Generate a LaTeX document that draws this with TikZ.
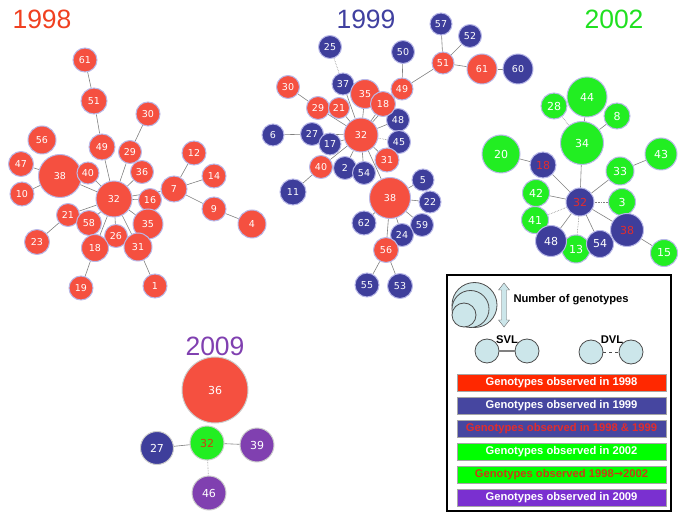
\documentclass[tikz,border=0pt]{standalone}
\usepackage{fontspec}
\setmainfont{Liberation Sans}
\newfontfamily\numfont{DejaVu Sans}
\usetikzlibrary{backgrounds}

\definecolor{red98}{RGB}{245,80,64}
\definecolor{blue99}{RGB}{62,62,155}
\definecolor{green02}{RGB}{34,238,34}
\definecolor{purple09}{RGB}{128,64,176}
\definecolor{rim}{RGB}{184,184,232}
\definecolor{redtext}{RGB}{225,45,45}
\definecolor{legfill}{RGB}{204,230,234}
\definecolor{barred}{RGB}{255,40,0}
\definecolor{barblue}{RGB}{70,70,160}
\definecolor{bargreen}{RGB}{0,255,0}
\definecolor{barpurple}{RGB}{122,48,208}
\definecolor{title98}{RGB}{240,64,32}
\definecolor{title99}{RGB}{64,64,160}
\definecolor{title02}{RGB}{32,224,32}

\begin{document}
\begin{tikzpicture}[x=1pt,y=-1pt,
  geno/.style={circle,draw=rim,line width=1pt,inner sep=0pt,text=white,
    font=\numfont\fontsize{9.5}{9.5}\selectfont},
  bigtext/.style={font=\numfont\fontsize{11}{11}\selectfont},
  g98/.style={geno,fill=red98},
  g99/.style={geno,fill=blue99},
  g99r/.style={g99,text=redtext},
  g02/.style={geno,fill=green02},
  g09/.style={geno,fill=purple09},
  svl/.style={draw=gray,line width=0.6pt},
  dvl/.style={svl,densely dotted},
  year/.style={font=\fontsize{26.5}{26.5}\selectfont},
  legcirc/.style={circle,draw=black!70,fill=legfill,line width=0.8pt,inner sep=0pt},
  bar/.style={draw=gray!70,minimum width=209pt,minimum height=17pt,inner sep=0pt,
    text=white,font=\bfseries\fontsize{11.2}{11.2}\selectfont},
  legtext/.style={font=\bfseries\fontsize{11.2}{11.2}\selectfont}]
  \useasboundingbox (0,0) rectangle (685,518);

  % Years.
  \node[year,text=title98] (t98) at (42,19) {1998};
  \node[year,text=title99] (t99) at (366,19) {1999};
  \node[year,text=title02] (t02) at (614,19) {2002};
  \node[year,text=purple09] (t09) at (215,346) {2009};

  % 1998 network.
  \foreach \n/\x/\y/\r in {61/85/60/12, 51/94/101/13, 30/148/114/12, 56/42/140/14,
      49/102/147/13, 29/130/152/11.5, 12/194/153/12, 47/21/164/12.5, 38/60/176/21.5,
      40/88/173/11, 36/142/172/11.5, 14/214/176/12, 7/174/189/13, 10/22/194/12,
      32/114/199/18, 16/150/200/11.5, 9/214/209/12, 21/68/215/11.5, 58/89/223/12.5,
      35/148/224/15, 4/252/224/14, 23/37/242/12.5, 26/116/236/11.5, 18/95/248/13.5,
      31/138/247/14, 19/81/288/12, 1/155/286/12}
    \node[g98,minimum size=\r*2pt] (a\n) at (\x,\y) {\n};

  % 1999 network.
  \foreach \n/\x/\y/\r in {57/441/24/11, 52/470/36/11.5, 25/330/47/11.5, 50/403/52/11.5,
      60/518/69/15, 37/343/84/11, 6/273/135/11, 27/312/134/11.5, 48/398/120/11.5,
      45/399/142/11.5, 17/330/144/11, 2/345/168/11.5, 54/364/173/11.5, 5/423/180/11,
      22/430/202/11, 11/293/192/13, 62/364/223/12, 59/422/225/11.5, 24/402/235/11.5,
      55/367/285/12, 53/400/286/12.5}
    \node[g99,minimum size=\r*2pt] (b\n) at (\x,\y) {\n};
  \foreach \n/\x/\y/\r in {51/443/63/11, 61/482/69/15, 30/288/87/11.5, 35/365/94/14.5,
      49/402/89/11, 29/318/108/11.5, 21/339/108/10.5, 18/383/104/12.5, 32/361/135/17,
      31/387/160/12, 40/321/167/11.5, 38/390/198/20.5, 56/386/250/12.5}
    \node[g98,minimum size=\r*2pt] (b\n) at (\x,\y) {\n};

  % 2002 network.
  \foreach \n/\x/\y/\r in {44/587/97/20, 28/554/106/13, 8/617/116/13, 34/582/143/21.5,
      20/501/154/19, 43/661/154/16, 33/620/171/14, 42/536/193/13.5, 3/622/202/13.5,
      41/535/220/13.5, 13/576/249/14, 15/664/253/13.5}
    \node[g02,bigtext,minimum size=\r*2pt] (c\n) at (\x,\y) {\n};
  \foreach \n/\x/\y/\r in {48/551/241/15.5, 54/600/244/13.5}
    \node[g99,bigtext,minimum size=\r*2pt] (c\n) at (\x,\y) {\n};
  \foreach \n/\x/\y/\r in {18/543/165/13, 32/580/202/14, 38/627/230/16.5}
    \node[g99r,bigtext,minimum size=\r*2pt] (c\n) at (\x,\y) {\n};

  % 2009 network.
  \node[g98,bigtext,draw=gray!40,minimum size=66pt] (d36) at (215,390) {36};
  \node[g02,bigtext,draw=gray!40,text={rgb,255:red,208;green,64;blue,16},minimum size=34pt] (d32) at (207,443) {32};
  \node[g99,bigtext,draw=gray!40,minimum size=33pt] (d27) at (157,448) {27};
  \node[g09,bigtext,draw=gray!40,minimum size=34pt] (d39) at (257,445) {39};
  \node[g09,bigtext,draw=gray!40,minimum size=34pt] (d46) at (209,493) {46};

  % Links, behind the circles.
  \begin{scope}[on background layer]
    \foreach \p/\q in {61/51, 51/49, 49/32, 30/29, 29/32, 47/38, 10/38, 38/32, 40/32,
        36/32, 16/32, 7/32, 12/7, 14/7, 7/9, 9/4, 21/32, 23/21, 58/32, 35/32, 26/32,
        18/32, 31/32, 19/18, 1/31}
      \draw[svl] (a\p) -- (a\q);
    \foreach \p/\q in {37/32, 30/29, 29/32, 21/32, 35/32, 18/32, 49/32, 50/49, 49/51,
        51/57, 51/52, 51/61, 61/60, 6/27, 27/32, 17/32, 40/32, 11/40, 2/32, 54/32,
        31/32, 48/32, 38/32, 5/38, 22/38, 59/38, 24/38, 62/38, 56/38, 55/56, 53/56}
      \draw[svl] (b\p) -- (b\q);
    \draw[dvl] (b25) -- (b37);
    \draw[dvl] (b45) -- (b32);
    \foreach \p/\q in {44/34, 8/34, 34/32, 20/18, 18/32, 43/33, 33/32, 42/32, 38/32,
        15/38, 48/32, 54/32}
      \draw[svl] (c\p) -- (c\q);
    \foreach \p/\q in {28/34, 3/32, 41/32, 13/32}
      \draw[dvl] (c\p) -- (c\q);
    \draw[svl] (d27) -- (d32);
    \draw[svl] (d32) -- (d39);
    \draw[dvl] (d32) -- (d46);
  \end{scope}

  % Legend box.
  \node[draw,line width=1.3pt,minimum width=224pt,minimum height=236pt] (legend) at (559,393) {};
  \node[legcirc,minimum size=45pt] (big) at (474.5,305) {};
  \node[legcirc,minimum size=37pt] (mid) at (470.5,309) {};
  \node[legcirc,minimum size=24pt] (small) at (464,315) {};
  \draw[fill=legfill,draw=black!60] (504,283) -- (509.5,290) -- (506.5,290) -- (506.5,320)
    -- (509.5,320) -- (504,327) -- (498.5,320) -- (501.5,320) -- (501.5,290)
    -- (498.5,290) -- cycle;
  \node[legtext,anchor=west] (count) at (510,300) {Number of genotypes};
  \node[legcirc,minimum size=24pt] (s1) at (487,351) {};
  \node[legcirc,minimum size=24pt] (s2) at (527,351) {};
  \node[legcirc,minimum size=24pt] (v1) at (591,352) {};
  \node[legcirc,minimum size=24pt] (v2) at (631,352) {};
  \draw[gray,line width=1.2pt] (s1) -- (s2);
  \draw[black!70,dashed,line width=0.6pt] (v1) -- (v2);
  \node[legtext] (svlname) at (507,340) {SVL};
  \node[legtext] (dvlname) at (612,340) {DVL};

  % Colour key.
  \node[bar,fill=barred] (k98) at (561.5,382.7) {Genotypes observed in 1998};
  \node[bar,fill=barblue] (k99) at (561.5,405.5) {Genotypes observed in 1999};
  \node[bar,fill=barblue,text=redtext] (kboth) at (561.5,428.7) {Genotypes observed in 1998 \& 1999};
  \node[bar,fill=bargreen] (k02) at (561.5,452) {Genotypes observed in 2002};
  \node[bar,fill=bargreen,text={rgb,255:red,200;green,60;blue,20}] (kspan) at (561.5,475) {Genotypes observed 1998{\numfont\bfseries→}2002};
  \node[bar,fill=barpurple] (k09) at (561.5,498) {Genotypes observed in 2009};
\end{tikzpicture}
\end{document}
